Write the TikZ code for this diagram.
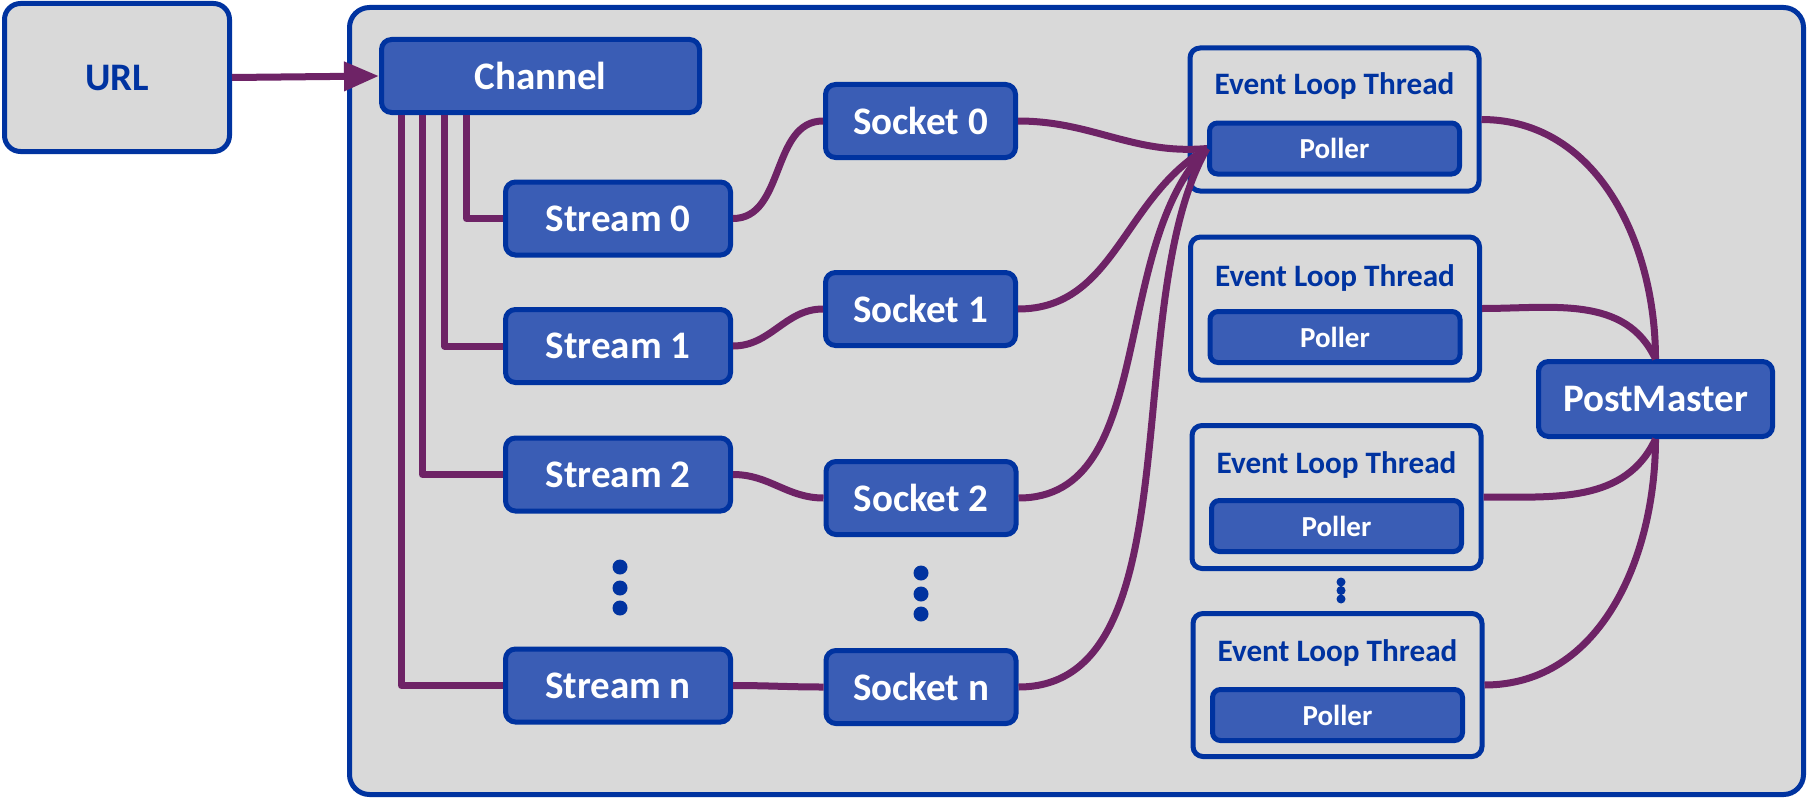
\documentclass[tikz,border=0pt]{standalone}
\usepackage{fontspec}
\setmainfont{Carlito}
\usetikzlibrary{arrows.meta}

\definecolor{navy}{HTML}{0033A0}
\definecolor{boxblue}{HTML}{3A5DB5}
\definecolor{plum}{HTML}{6E2366}
\definecolor{panelgray}{HTML}{D9D9D9}
\newcommand\lblfont{\fontsize{19.5}{23}\selectfont\bfseries}
\newcommand\smlfont{\fontsize{14.5}{17}\selectfont\bfseries}
\newcommand\eltfont{\fontsize{15.6}{18}\selectfont\bfseries}

\begin{document}
\begin{tikzpicture}[x=0.5pt, y=0.5pt,
  panel/.style={draw=navy, line width=2.5pt, fill=panelgray, rounded corners=10pt, inner sep=0pt},
  block/.style={draw=navy, line width=2.5pt, fill=boxblue, rounded corners=5pt, text=white, inner sep=0pt, font=\lblfont},
  streambox/.style={block, minimum width=112.5pt, minimum height=36.5pt},
  socketbox/.style={block, minimum width=95pt, minimum height=36.5pt},
  thread/.style={draw=navy, line width=2.5pt, fill=panelgray, rounded corners=5pt, minimum width=144.5pt, minimum height=71.5pt},
  poller/.style={block, rounded corners=4pt, minimum width=125pt, minimum height=25.5pt, font=\smlfont},
  threadname/.style={anchor=base, inner sep=0pt, text=navy, font=\eltfont},
  wire/.style={draw=plum, line width=3.5pt, line join=round},
  dots/.style={fill=navy}]
\fill[white] (0,0) rectangle (1808,800);
\useasboundingbox (0,0) rectangle (1808,800);

\node[panel, minimum width=727pt, minimum height=393.5pt] (core) at (1076.5,399) {};
\node[panel, rounded corners=8pt, minimum width=112.5pt, minimum height=74pt, text=navy, font=\lblfont] (url) at (117,722.5) {URL};
\node[block, minimum width=159pt, minimum height=36.5pt] (chan) at (540.5,724) {Channel};

\node[streambox] (st0) at (618,581.5) {Stream 0};
\node[streambox] (st1) at (618,454) {Stream 1};
\node[streambox] (st2) at (618,325.5) {Stream 2};
\node[streambox] (stn) at (618,114.5) {Stream n};

\node[socketbox] (so0) at (920.5,679) {Socket 0};
\node[socketbox] (so1) at (920.5,491) {Socket 1};
\node[socketbox] (so2) at (921,302) {Socket 2};
\node[socketbox] (son) at (921,113) {Socket n};

\node[thread] (elt1) at (1334.5,680.5) {};
\node[thread] (elt2) at (1335,491.5) {};
\node[thread] (elt3) at (1336.5,303) {};
\node[thread] (elt4) at (1337.5,115) {};
\node[threadname] (name1) at (1334.5,705) {Event Loop Thread};
\node[threadname] (name2) at (1335,514) {Event Loop Thread};
\node[threadname] (name3) at (1336.5,327) {Event Loop Thread};
\node[threadname] (name4) at (1337.5,139) {Event Loop Thread};
\node[poller] (p1) at (1334.5,651.5) {Poller};
\node[poller] (p2) at (1335,463) {Poller};
\node[poller] (p3) at (1336.5,274) {Poller};
\node[poller] (p4) at (1337.5,85) {Poller};

\node[block, minimum width=117pt, minimum height=37.5pt] (pm) at (1655.5,401) {PostMaster};

% more streams, sockets and threads
\fill[dots] (620,233) circle[radius=3.75pt] (620,212) circle[radius=3.75pt] (620,192) circle[radius=3.75pt];
\fill[dots] (921,227) circle[radius=3.75pt] (921,206) circle[radius=3.75pt] (921,186) circle[radius=3.75pt];
\fill[dots] (1341,218) circle[radius=2.25pt] (1341,209.5) circle[radius=2.25pt] (1341,201) circle[radius=2.25pt];

\draw[wire, -{Triangle[length=17.5pt, width=14pt]}] (url.east) -- (chan.west);

\draw[wire] ([xshift=43.75pt]chan.south west) |- (st0.west);
\draw[wire] ([xshift=32.75pt]chan.south west) |- (st1.west);
\draw[wire] ([xshift=21.75pt]chan.south west) |- (st2.west);
\draw[wire] ([xshift=11.25pt]chan.south west) |- (stn.west);

\draw[wire] (st0.east) to[out=0, in=180] (so0.west);
\draw[wire] (st1.east) to[out=0, in=180] (so1.west);
\draw[wire] (st2.east) to[out=0, in=180] (so2.west);
\draw[wire] (stn.east) to[out=0, in=180] (son.west);

\draw[wire] (so0.east) to[out=0, in=185] (p1.west);
\draw[wire] (so1.east) to[out=0, in=210] (p1.west);
\draw[wire] (so2.east) to[out=0, in=225, looseness=0.9] (p1.west);
\draw[wire] (son.east) to[out=0, in=240, looseness=0.8] (p1.west);

\draw[wire] (elt1.east) to[out=0, in=90] (pm.north);
\draw[wire] (elt2.east) to[out=0, in=115] (pm.north);
\draw[wire] (elt3.east) to[out=0, in=-115] (pm.south);
\draw[wire] (elt4.east) to[out=0, in=-90] (pm.south);
\end{tikzpicture}
\end{document}
